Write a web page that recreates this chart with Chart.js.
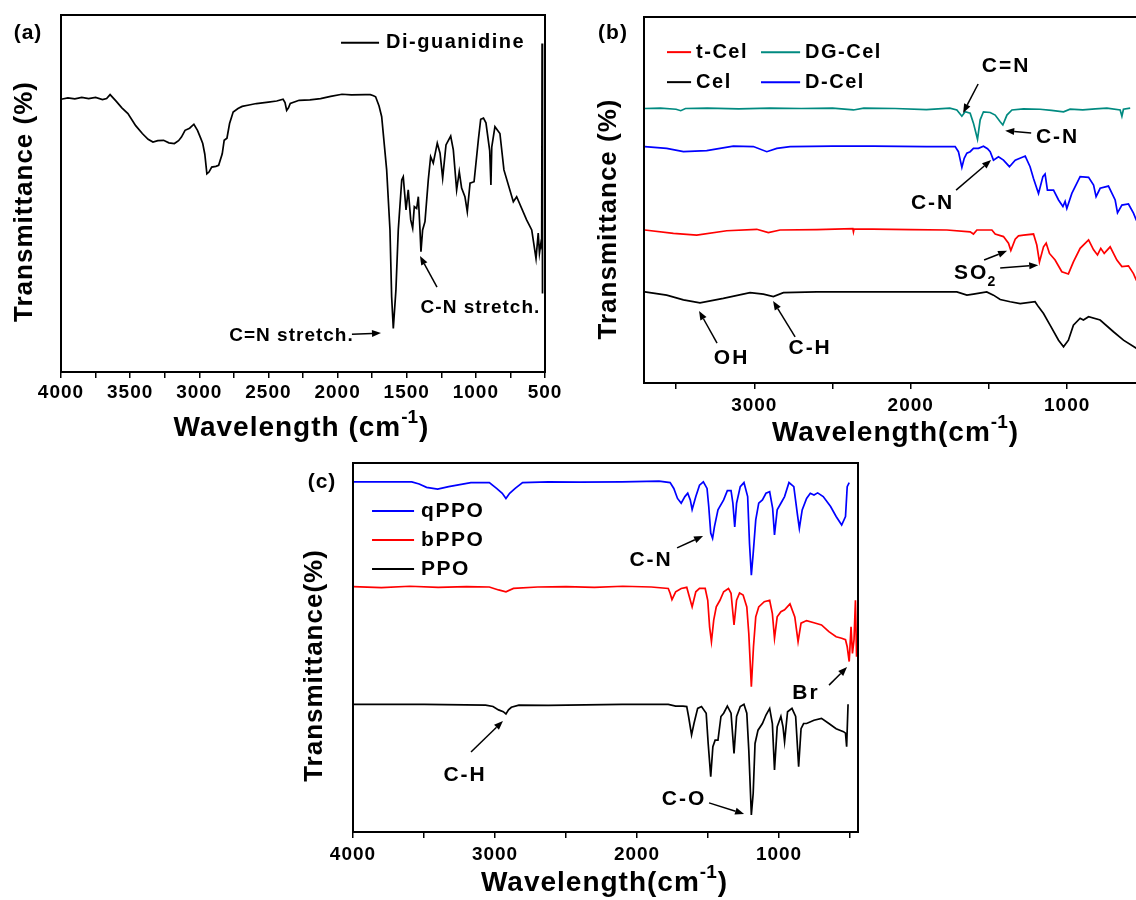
<!DOCTYPE html>
<html>
<head>
<meta charset="utf-8">
<script src="https://cdn.jsdelivr.net/npm/chart.js@4.4.0/dist/chart.umd.min.js"></script>
<style>
  html, body { margin: 0; padding: 0; background: #fff; overflow: hidden; width: 1136px; height: 900px; }
  canvas { position: absolute; left: 0; top: 0; }
</style>
</head>
<body>
<canvas id="chartA" width="1200" height="900"></canvas>
<canvas id="chartB" width="1200" height="900"></canvas>
<canvas id="chartC" width="1200" height="900"></canvas>
<script>

/* ------------------------------------------------ */
// tick positions (cm-1)

let aTicks = [4000,3750,3500,3250,3000,2750,2500,2250,2000,1750,1500,1250,1000,750,500];
let bTicks = [3500,3000,2500,2000,1500,1000,500];
let cTicks = [4000,3500,3000,2500,2000,1500,1000,500];

/* ------------------------------------------------ */
// (a) Di-guanidine

let aWave = [4000,3950,3900,3850,3800,3750,3700,3670,3645,3600,
  3560,3516,3460,3412,3370,3335,3300,3258,3220,3180,
  3150,3129,3103,3070,3039,3013,2990,2975,2960,2945,
  2930,2910,2880,2860,2834,2820,2800,2781,2755,2720,
  2690,2640,2587,2500,2440,2394,2380,2368,2355,2342,
  2278,2200,2123,2050,1968,1900,1800,1763,1740,1725,
  1700,1681,1645,1621,1609,1597,1578,1561,1536,1525,
  1505,1489,1471,1457,1445,1428,1416,1404,1397,1385,
  1368,1344,1327,1308,1279,1259,1240,1216,1182,1163,
  1139,1120,1103,1079,1062,1042,1013,982,965,945,
  927,900,891,885,862,826,797,729,705,633,
  596,565,549,540,530,524,521,518];
let aTrans = [76.4,76.8,76.5,76.9,76.6,76.9,76.3,76.6,77.7,75.8,
  74.0,72.4,69.0,66.8,65.2,64.4,64.8,64.9,64.2,64.0,
  64.8,65.8,67.7,68.3,69.4,67.7,65.5,64.0,61.0,55.5,
  56.0,57.4,57.6,57.9,61.1,64.9,65.5,69.6,72.8,73.8,
  74.4,74.8,75.2,75.6,75.9,76.4,75.5,73.3,74.0,75.2,
  76.1,76.2,76.6,77.2,77.8,77.6,77.7,77.7,77.4,77.1,
  74.5,71.5,56.6,39.8,21.1,12.2,23.0,39.8,53.8,54.7,
  45.4,51.0,42.6,40.3,46.3,45.8,49.1,39.8,33.7,39.8,
  42.1,53.8,60.3,58.5,64.1,61.3,54.3,63.6,66.1,62.2,
  51.0,56.1,51.5,49.1,44.9,52.9,53.3,65.0,70.8,71.1,
  69.8,62.0,52.4,63.0,68.7,66.8,56.6,47.7,49.1,42.6,
  39.8,31.8,38.9,33.3,36.0,35.0,92.0,22.0];

/* ------------------------------------------------ */
// (b) cellulose series

let dgWave = [3700,3600,3500,3470,3440,3300,3100,2900,2700,2500,
  2366,2300,2100,1900,1750,1705,1673,1652,1620,1599,
  1573,1556,1535,1492,1460,1428,1411,1385,1353,1279,
  1173,1100,1023,981,900,820,746,661,650,640,597];
let dgTrans = [75.0,75.1,74.8,74.4,75.0,75.1,74.9,75.1,75.0,75.1,
  74.6,75.1,75.0,74.7,75.1,74.6,72.9,74.1,73.7,71.0,
  66.6,71.9,74.1,73.9,73.2,71.4,70.5,73.2,74.6,74.9,
  74.8,74.5,74.1,74.8,74.6,74.9,75.1,74.6,72.9,74.8,75.1];

let dWave = [3700,3560,3453,3304,3134,3006,2920,2856,2771,2500,
  2238,1900,1716,1695,1673,1658,1641,1620,1599,1567,
  1535,1509,1492,1471,1439,1407,1369,1332,1268,1237,
  1215,1183,1155,1141,1126,1087,1055,1027,1013,1002,
  970,917,863,831,815,789,736,693,678,650,
  608,576,558,530];
let dTrans = [64.6,64.1,63.2,63.5,64.7,64.6,63.2,64.1,64.6,64.7,
  64.7,64.6,64.6,63.2,58.9,61.4,62.8,63.2,64.1,64.1,
  64.7,64.0,63.2,60.9,61.8,60.9,59.1,60.9,62.0,59.1,
  55.9,51.8,56.4,57.1,52.7,52.7,50.0,48.2,49.6,47.7,
  51.8,56.4,56.2,54.1,50.9,53.2,53.8,50.0,46.5,48.6,
  48.9,46.4,44.5,43.0];

let tWave = [3700,3517,3368,3176,2984,2910,2835,2600,2370,2366,
  2362,2000,1769,1620,1599,1577,1481,1460,1407,1375,
  1360,1332,1311,1279,1215,1194,1177,1151,1134,1113,
  1077,1034,992,960,917,863,831,806,785,763,
  725,682,650,608,576,558,530];
let tTrans = [41.8,40.9,40.4,41.6,42.0,41.1,41.8,41.9,42.2,41.3,
  42.1,41.9,41.8,41.3,40.7,41.8,41.8,40.7,40.0,38.2,
  36.2,39.3,40.2,40.4,40.7,37.7,33.1,37.2,38.2,35.4,
  33.6,30.4,29.8,33.1,36.8,39.1,36.4,35.0,36.8,35.4,
  37.2,33.6,31.8,32.0,29.9,28.1,26.5];

let cWave = [3700,3560,3453,3347,3198,3027,2942,2878,2814,2600,
  2200,1705,1641,1599,1514,1471,1428,1364,1300,1205,
  1183,1151,1109,1055,1023,992,960,917,896,863,
  789,704,640,558,530];
let cTrans = [24.9,24.0,22.7,21.9,23.1,24.7,24.3,23.6,24.7,24.9,
  24.9,24.9,24.0,24.3,24.9,24.0,22.8,22.2,21.7,22.2,
  20.8,19.0,15.8,11.7,9.9,11.7,15.8,17.7,17.2,18.1,
  17.2,14.0,11.7,9.5,8.5];

/* ------------------------------------------------ */
// (c) PPO series

let qWave = [4000,3800,3586,3534,3482,3404,3326,3170,3040,2989,
  2949,2923,2897,2858,2806,2625,2400,2105,1845,1767,
  1741,1715,1689,1663,1643,1625,1612,1586,1560,1533,
  1507,1495,1481,1468,1455,1430,1390,1364,1338,1325,
  1312,1299,1273,1247,1221,1208,1195,1182,1164,1143,
  1117,1092,1066,1045,1032,1013,987,961,930,896,
  870,857,837,806,780,754,728,689,637,598,
  559,532,520,506];
let qTrans = [94.9,94.9,94.9,94.3,93.4,92.9,93.6,94.7,94.7,93.1,
  91.8,90.4,91.8,93.1,94.7,94.9,94.8,94.9,95.1,94.7,
  93.1,90.4,89.1,90.9,91.8,90.0,87.4,90.9,94.0,94.9,
  93.1,88.2,81.0,79.6,82.7,87.3,90.0,92.5,92.5,89.1,
  82.7,89.1,93.6,94.7,90.9,78.2,69.6,75.5,84.6,89.1,
  90.0,91.8,92.2,87.7,80.5,87.3,89.1,90.9,94.7,93.6,
  85.9,82.3,87.3,90.4,91.8,91.3,91.9,90.9,88.2,85.5,
  83.2,85.5,93.6,94.7];

let bWave = [4000,3800,3600,3400,3200,3040,2975,2923,2870,2700,
  2500,2300,2100,1900,1780,1767,1754,1728,1689,1650,
  1632,1612,1586,1560,1520,1502,1489,1476,1460,1442,
  1416,1390,1356,1338,1317,1299,1278,1253,1227,1213,
  1195,1180,1164,1143,1104,1066,1047,1032,1013,987,
  961,923,889,866,845,806,754,701,649,598,
  559,532,520,506,493,483,472,462,454];
let bTrans = [66.5,66.2,66.6,66.3,66.5,66.4,65.6,65.1,66.0,66.4,
  66.5,66.3,66.6,66.4,66.0,64.7,63.0,65.1,66.0,66.3,
  63.8,61.0,65.1,66.0,66.0,62.8,55.6,51.6,57.4,61.0,
  62.8,65.1,66.0,64.7,56.1,62.8,64.8,64.2,61.0,53.8,
  39.4,50.2,58.3,61.0,62.4,62.8,59.2,52.5,58.3,59.7,
  60.2,61.8,58.3,51.6,56.6,57.3,56.7,56.1,54.3,52.9,
  52.5,52.1,50.2,46.2,55.6,48.4,52.1,62.8,47.5];

let pWave = [4000,3500,3066,3014,2975,2942,2923,2905,2885,2832,
  2625,2105,1780,1728,1676,1650,1637,1616,1599,1573,
  1546,1513,1499,1481,1466,1450,1430,1409,1390,1364,
  1338,1317,1299,1273,1247,1227,1213,1195,1182,1169,
  1148,1117,1092,1066,1047,1032,1013,987,972,961,
  940,909,883,862,845,827,806,754,701,649,
  598,546,532,524,514];
let pTrans = [34.6,34.6,34.4,34.0,33.1,32.6,32.0,33.1,33.8,34.4,
  34.3,34.6,34.6,34.1,34.1,34.0,31.3,26.3,29.4,33.5,
  34.0,32.2,24.0,15.0,23.1,24.9,24.9,31.3,32.2,34.1,
  32.2,21.3,31.3,34.0,34.6,32.2,22.2,4.6,10.5,24.0,
  27.6,29.4,31.7,33.5,29.4,16.8,28.5,31.3,28.5,24.5,
  32.6,33.5,31.3,17.7,28.0,29.4,29.4,30.3,30.8,29.4,
  28.0,27.2,26.8,23.1,34.6];

/* ------------------------------------------------ */

const FONT = '"Liberation Sans", Arial, sans-serif';

function setFont(ctx, size, spacing) {
  ctx.font = 'bold ' + size + 'px ' + FONT;
  ctx.letterSpacing = (spacing || 0) + 'px';
}

function toPoints(wave, trans) {
  return wave.map((w, i) => ({ x: w, y: trans[i] }));
}

function series(label, wave, trans, color) {
  return {
    label: label,
    data: toPoints(wave, trans),
    borderColor: color,
    borderWidth: 1.7,
    pointRadius: 0,
    tension: 0,
    fill: false,
  };
}

function drawArrow(ctx, x0, y0, x1, y1) {
  let ang = Math.atan2(y1 - y0, x1 - x0);
  let head = 9, half = 3.5;
  let bx = x1 - head * Math.cos(ang);
  let by = y1 - head * Math.sin(ang);
  ctx.beginPath();
  ctx.moveTo(x0, y0);
  ctx.lineTo(bx, by);
  ctx.stroke();
  ctx.beginPath();
  ctx.moveTo(x1, y1);
  ctx.lineTo(bx + half * Math.sin(ang), by - half * Math.cos(ang));
  ctx.lineTo(bx - half * Math.sin(ang), by + half * Math.cos(ang));
  ctx.closePath();
  ctx.fill();
}

/* ------------------------------------------------ */

const panelDecor = {
  id: 'panelDecor',
  beforeDraw(chart) {
    // wide bold tick labels
    chart.ctx.letterSpacing = '1px';
  },
  afterDraw(chart, args, opts) {
    let ctx = chart.ctx;
    let a = chart.chartArea;
    let xs = chart.scales.x;
    let ys = chart.scales.y;
    let px = (v) => xs.getPixelForValue(v);
    let py = (v) => ys.getPixelForValue(v);

    ctx.save();
    ctx.strokeStyle = '#000';
    ctx.fillStyle = '#000';
    ctx.lineWidth = 2;
    ctx.strokeRect(a.left, a.top, a.right - a.left, a.bottom - a.top);
    ctx.textBaseline = 'middle';

    // panel tag
    setFont(ctx, 21, 1);
    ctx.textAlign = 'center';
    ctx.fillText(opts.tag, a.left + opts.tagAt[0], a.top + opts.tagAt[1]);

    // y title
    ctx.save();
    ctx.translate(a.left + opts.yTitleAt[0], (a.top + a.bottom) / 2 + opts.yTitleAt[1]);
    ctx.rotate(-Math.PI / 2);
    setFont(ctx, 26, 1);
    ctx.fillText(opts.yTitle, 0, 0);
    ctx.restore();

    // x title with superscript
    let parts = opts.xTitle;
    setFont(ctx, 28, 1);
    let w0 = ctx.measureText(parts[0]).width;
    let w2 = ctx.measureText(parts[2]).width;
    setFont(ctx, 19, 0);
    let w1 = ctx.measureText(parts[1]).width;
    let tx = a.left + opts.xTitleAt[0] - (w0 + w1 + w2) / 2;
    let ty = a.bottom + opts.xTitleAt[1];
    ctx.textAlign = 'left';
    setFont(ctx, 28, 1);
    ctx.fillText(parts[0], tx, ty);
    setFont(ctx, 19, 0);
    ctx.fillText(parts[1], tx + w0, ty - 10);
    setFont(ctx, 28, 1);
    ctx.fillText(parts[2], tx + w0 + w1 + 1, ty);

    // legend
    opts.legend.forEach((item) => {
      let ds = chart.data.datasets[item.ds];
      ctx.strokeStyle = ds.borderColor;
      ctx.lineWidth = 2;
      ctx.beginPath();
      ctx.moveTo(px(item.x[0]), py(item.y));
      ctx.lineTo(px(item.x[1]), py(item.y));
      ctx.stroke();
      setFont(ctx, opts.legendFont, 1.5);
      ctx.textAlign = 'left';
      ctx.fillStyle = '#000';
      ctx.fillText(ds.label, px(item.x[1]) + opts.legendGap, py(item.y));
    });

    // peak annotations
    ctx.strokeStyle = '#000';
    ctx.fillStyle = '#000';
    ctx.lineWidth = 1.5;
    opts.notes.forEach((n) => {
      setFont(ctx, opts.noteFont, opts.noteSpacing);
      let w = ctx.measureText(n.text).width;
      let subW = 0;
      if (n.sub) {
        setFont(ctx, 14, 0);
        subW = ctx.measureText(n.sub).width;
      }
      let x0 = px(n.at[0]) - (w + subW) / 2;
      let y0 = py(n.at[1]);
      ctx.textAlign = 'left';
      setFont(ctx, opts.noteFont, opts.noteSpacing);
      ctx.fillText(n.text, x0, y0);
      if (n.sub) {
        setFont(ctx, 14, 0);
        ctx.fillText(n.sub, x0 + w - 1, y0 + 9);
      }
      n.arrows.forEach((ar) => {
        drawArrow(ctx, px(ar[0][0]), py(ar[0][1]), px(ar[1][0]), py(ar[1][1]));
      });
    });

    ctx.restore();
  },
};

/* ------------------------------------------------ */

function xAxis(min, max, tickList, labelStep, padding) {
  return {
    type: 'linear',
    reverse: true,
    min: min,
    max: max,
    afterFit: (s) => { s.height = 40; },
    afterBuildTicks: (s) => {
      s.ticks = tickList.map((v) => ({ value: v }));
    },
    border: { display: false },
    grid: { drawOnChartArea: false, drawTicks: true, tickLength: 6, color: '#000', lineWidth: 1.5 },
    ticks: {
      autoSkip: false,
      maxRotation: 0,
      padding: padding,
      color: '#000',
      font: { family: FONT, size: 19, weight: 'bold' },
      callback: (v) => (v % labelStep === 0 ? String(v) : ''),
    },
  };
}

function makeChart(id, datasets, area, xOpts, decor) {
  let ctx = document.getElementById(id).getContext('2d');
  return new Chart(ctx, {
    type: 'line',
    data: { datasets: datasets },
    options: {
      responsive: false,
      animation: false,
      devicePixelRatio: 1,
      layout: {
        padding: { left: area[0], top: area[1], right: 1200 - area[2], bottom: 900 - area[3] - 40 },
      },
      scales: {
        x: xOpts,
        y: { display: false, min: 0, max: 100 },
      },
      plugins: {
        legend: { display: false },
        tooltip: { enabled: false },
        panelDecor: decor,
      },
    },
    plugins: [panelDecor],
  });
}

/* ------------------------------------------------ */

makeChart('chartA',
  [series('Di-guanidine', aWave, aTrans, '#000000')],
  [61, 15, 545, 372],
  xAxis(500, 4000, aTicks, 500, 3),
  {
    tag: '(a)', tagAt: [-33, 18],
    yTitle: 'Transmittance (%)', yTitleAt: [-36, 8],
    xTitle: ['Wavelength (cm', '-1', ')'], xTitleAt: [240, 56],
    legendFont: 20, legendGap: 7,
    legend: [{ ds: 0, x: [1975, 1700], y: 92.2 }],
    noteFont: 19, noteSpacing: 1,
    notes: [
      { text: 'C=N stretch.', at: [2333, 10.1], arrows: [[[1896, 10.6], [1686, 10.9]]] },
      { text: 'C-N stretch.', at: [967, 17.9], arrows: [[[1281, 23.8], [1404, 32.5]]] },
    ],
  });

makeChart('chartB',
  [
    series('t-Cel', tWave, tTrans, '#ff0000'),
    series('DG-Cel', dgWave, dgTrans, '#008a80'),
    series('Cel', cWave, cTrans, '#000000'),
    series('D-Cel', dWave, dTrans, '#0000ff'),
  ],
  [644, 17, 1161, 383],
  xAxis(400, 3705, bTicks, 1000, 5),
  {
    tag: '(b)', tagAt: [-31, 16],
    yTitle: 'Transmittance (%)', yTitleAt: [-35, 19],
    xTitle: ['Wavelength(cm', '-1', ')'], xTitleAt: [251, 50],
    legendFont: 20, legendGap: 5,
    legend: [
      { ds: 0, x: [3558, 3404], y: 90.4 },
      { ds: 1, x: [2957, 2707], y: 90.4 },
      { ds: 2, x: [3558, 3404], y: 82.2 },
      { ds: 3, x: [2957, 2707], y: 82.2 },
    ],
    noteFont: 21, noteSpacing: 2,
    notes: [
      { text: 'C=N', at: [1390, 86.6], arrows: [[[1569, 81.7], [1665, 73.8]]] },
      { text: 'C-N', at: [1061, 67.2], arrows: [[[1230, 68.3], [1396, 68.9]]] },
      { text: 'C-N', at: [1860, 49.2], arrows: [[[1710, 52.7], [1486, 60.9]]] },
      { text: 'SO', sub: '2', at: [1588, 30.1], arrows: [[[1531, 33.6], [1384, 36.1]], [[1428, 31.4], [1185, 32.2]]] },
      { text: 'OH', at: [3145, 6.8], arrows: [[[3238, 10.9], [3353, 19.7]]] },
      { text: 'C-H', at: [2643, 9.6], arrows: [[[2739, 12.6], [2880, 22.4]]] },
    ],
  });

makeChart('chartC',
  [
    series('qPPO', qWave, qTrans, '#0000ff'),
    series('bPPO', bWave, bTrans, '#ff0000'),
    series('PPO', pWave, pTrans, '#000000'),
  ],
  [353, 463, 858, 832],
  xAxis(444, 4000, cTicks, 1000, 5),
  {
    tag: '(c)', tagAt: [-31, 19],
    yTitle: 'Transmittance(%)', yTitleAt: [-38, 18],
    xTitle: ['Wavelength(cm', '-1', ')'], xTitleAt: [251, 51],
    legendFont: 21, legendGap: 7,
    legend: [
      { ds: 0, x: [3866, 3570], y: 87.0 },
      { ds: 1, x: [3866, 3570], y: 79.1 },
      { ds: 2, x: [3866, 3570], y: 71.3 },
    ],
    noteFont: 21, noteSpacing: 2,
    notes: [
      { text: 'C-N', at: [1901, 73.7], arrows: [[[1718, 77.0], [1535, 80.2]]] },
      { text: 'Br', at: [810, 37.7], arrows: [[[648, 39.8], [521, 44.7]]] },
      { text: 'C-H', at: [3211, 15.4], arrows: [[[3169, 21.7], [2944, 30.1]]] },
      { text: 'C-O', at: [1669, 8.9], arrows: [[[1493, 7.9], [1246, 4.9]]] },
    ],
  });

</script>
</body>
</html>
